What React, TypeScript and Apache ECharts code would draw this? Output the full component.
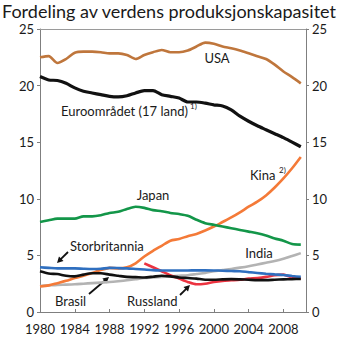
import React, { useEffect, useRef } from "react";
import * as echarts from "echarts";

const years = [1980,1981,1982,1983,1984,1985,1986,1987,1988,1989,1990,1991,1992,1993,1994,1995,1996,1997,1998,1999,2000,2001,2002,2003,2004,2005,2006,2007,2008,2009,2010];

const usa = [22.5,22.6,22.0,22.35,22.9,23.0,23.0,22.95,22.85,22.85,22.7,22.35,22.7,22.95,23.15,22.95,22.95,23.1,23.45,23.8,23.7,23.45,23.3,23.1,22.85,22.6,22.35,21.85,21.25,20.75,20.2];
const euro = [20.8,20.5,20.45,20.2,19.8,19.5,19.35,19.2,19.05,19.0,19.1,19.35,19.55,19.55,19.2,19.05,18.9,18.55,18.55,18.45,18.3,18.2,17.85,17.3,16.85,16.45,16.1,15.75,15.4,15.0,14.6];
const kina = [2.25,2.35,2.55,2.75,3.0,3.2,3.45,3.7,3.9,3.85,3.95,4.3,4.9,5.4,5.85,6.3,6.45,6.7,6.9,7.2,7.55,7.95,8.35,8.8,9.3,9.75,10.3,11.0,11.8,12.7,13.7];
const japan = [7.95,8.1,8.25,8.25,8.25,8.45,8.45,8.55,8.75,8.85,9.1,9.3,9.2,9.0,8.9,8.75,8.65,8.5,8.15,7.85,7.7,7.55,7.4,7.25,7.1,6.95,6.75,6.5,6.3,6.0,5.95];
const storbritannia = [3.95,3.9,3.85,3.85,3.85,3.82,3.8,3.82,3.9,3.88,3.85,3.8,3.75,3.7,3.67,3.67,3.67,3.67,3.68,3.68,3.67,3.65,3.62,3.6,3.52,3.45,3.38,3.32,3.27,3.18,3.1];
const india = [2.3,2.35,2.4,2.42,2.45,2.5,2.55,2.6,2.65,2.72,2.8,2.9,3.0,3.05,3.1,3.15,3.2,3.25,3.35,3.45,3.6,3.7,3.8,3.92,4.05,4.2,4.35,4.5,4.7,4.95,5.2];
const russland = [null,null,null,null,null,null,null,null,null,null,null,null,4.3,3.95,3.6,3.25,2.95,2.65,2.45,2.5,2.65,2.75,2.8,2.85,2.95,3.0,3.1,3.25,3.3,3.05,2.95];
const brasil = [3.6,3.4,3.35,3.2,3.15,3.3,3.42,3.42,3.3,3.2,3.1,3.08,3.05,3.12,3.2,3.15,3.05,3.0,2.95,2.85,2.85,2.88,2.9,2.88,2.85,2.82,2.82,2.85,2.88,2.9,2.92];

const yTicks = [0, 5, 10, 15, 20, 25];

const FONT = "Lato";

function pairs(vals: (number | null)[]) {
  return years.map((y, i) => [y, vals[i]]);
}

function arrow(tail: number[], tip: number[], color: string) {
  const dx = tip[0] - tail[0];
  const dy = tip[1] - tail[1];
  const len = Math.sqrt(dx * dx + dy * dy);
  const ux = dx / len, uy = dy / len;
  const hl = 6, hw = 3.2;
  const bx = tip[0] - ux * hl, by = tip[1] - uy * hl;
  return [
    { type: "line", shape: { x1: tail[0], y1: tail[1], x2: bx + ux, y2: by + uy }, style: { stroke: color, lineWidth: 1.8 } },
    { type: "polygon", shape: { points: [[tip[0], tip[1]], [bx - uy * hw, by + ux * hw], [bx + uy * hw, by - ux * hw]] }, style: { fill: color } },
  ];
}

function label(text: string, x: number, y: number, size = 13, align = "left") {
  return { type: "text", x, y, style: { text, fontFamily: FONT, fontSize: size, fill: "#1a1a1a", textAlign: align, textVerticalAlign: "middle" } };
}

export default function App() {
  const ref = useRef<HTMLDivElement>(null);
  useEffect(() => {
    document.body.style.margin = "0";
    const chart = echarts.init(ref.current!, null, { renderer: "svg" });
    const line = (name: string, vals: (number | null)[], color: string, width = 2.6) => ({
      name, type: "line", data: pairs(vals), showSymbol: false, smooth: 0.25,
      lineStyle: { color, width }, itemStyle: { color }, connectNulls: false,
    });
    const yAxisBase = {
      type: "value", min: 0, max: 25, interval: 5,
      axisLine: { show: true, lineStyle: { color: "#7f7f7f", width: 1 } },
      axisTick: { show: true, inside: false, length: 3, lineStyle: { color: "#7f7f7f" } },
      splitLine: { show: false },
      axisLabel: { fontFamily: FONT, fontSize: 13, color: "#1a1a1a", margin: 6, lineHeight: 13, formatter: (v: number) => (yTicks.includes(v) ? String(v) : "") },
    };
    chart.setOption({
      animation: false,
      title: { text: "Fordeling av verdens produksjonskapasitet", left: 2, top: 1, padding: 0, textStyle: { fontFamily: FONT, fontSize: 18, lineHeight: 19, fontWeight: "normal", color: "#1a1a1a" } },
      grid: { left: 40, right: 44, top: 29, bottom: 30, containLabel: false },
      xAxis: [
        {
          type: "value", min: 1980, max: 2010.6, interval: 4,
          axisLine: { show: true, onZero: false, lineStyle: { color: "#7f7f7f", width: 1 } },
          axisTick: { show: true, inside: true, length: 3, lineStyle: { color: "#7f7f7f" } },
          splitLine: { show: false },
          axisLabel: { fontFamily: FONT, fontSize: 13, color: "#1a1a1a", margin: 10, formatter: (v: number) => (v % 4 === 0 ? String(v) : "") },
        },
        {
          type: "value", min: 1980, max: 2010.6, position: "top",
          axisLine: { show: true, onZero: false, lineStyle: { color: "#9a9a9a", width: 1 } },
          axisTick: { show: false }, axisLabel: { show: false }, splitLine: { show: false },
        },
      ],
      yAxis: [
        { ...yAxisBase, position: "left" },
        { ...yAxisBase, position: "right" },
      ],
      series: [
        line("India", india, "#b3b3b3"),
        line("Kina", kina, "#f47a38"),
        line("Japan", japan, "#139649"),
        line("Russland", russland, "#ec3340"),
        line("Storbritannia", storbritannia, "#2f6fbf"),
        line("Brasil", brasil, "#111111", 2.6),
        line("Euroområdet", euro, "#111111", 3.2),
        line("USA", usa, "#bf763c"),
      ],
      graphic: [
        label("USA", 217, 58, 13, "center"),
        label("Euroområdet (17 land)", 61, 111),
        label("1)", 190, 106, 8),
        label("Japan", 153, 195, 13, "center"),
        label("Kina", 250, 175),
        label("2)", 279, 170, 8),
        label("Storbritannia", 70, 246),
        label("India", 259, 253, 13, "center"),
        label("Brasil", 55, 301),
        label("Russland", 127, 301),
        ...arrow([68, 252], [57, 263], "#111"),
        ...arrow([89, 294], [109, 277], "#111"),
        ...arrow([180, 295], [190, 285], "#111"),
      ],
    });
    return () => chart.dispose();
  }, []);
  return <div ref={ref} style={{ width: 350, height: 342 }} />;
}
